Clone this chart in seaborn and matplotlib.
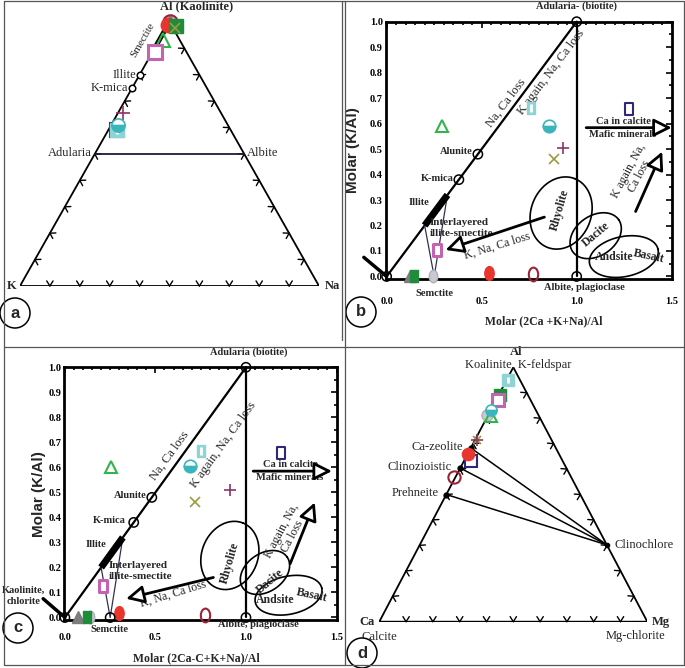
import numpy as np
import pandas as pd
import seaborn as sns
import matplotlib.pyplot as plt
import matplotlib.ticker as mticker
from matplotlib.path import Path
from matplotlib.lines import Line2D
from matplotlib.patches import Ellipse

W, H = 685, 668

# ---------------- data ----------------
# panel a: ternary Al-K-Na, points as (Al fraction, Na fraction)
a_node_names = ["Illite", "K-mica"]
a_node_al = [0.80, 0.75]
a_smectite_al = [0.865, 0.975]
a_feldspar_al = 0.5
a_samples = {
    "ci_grey": (1.0, 0.0), "tri_grey": (1.0, 0.0), "darkred": (1.0, 0.0),
    "red": (0.99, 0.0), "sq_green": (0.985, 0.03), "x": (0.977, 0.03),
    "tri_green": (0.932, 0.012), "sq_magenta": (0.886, 0.008),
    "plus": (0.655, 0.017), "sq_blue": (0.59, 0.03), "sq_cyan": (0.59, 0.029),
    "ci_cyan": (0.61, 0.023),
}

# panels b and c: molar (2Ca+K+Na)/Al vs molar K/Al
node_names = ["Alunite", "K-mica"]
node_xy = [0.48, 0.38]
illite_seg = [0.20, 0.32]
semctite_x = 0.25
b_samples = {
    "tri_green": (0.29, 0.59), "sq_cyan": (0.76, 0.66), "ci_cyan": (0.853, 0.59),
    "plus": (0.927, 0.505), "x": (0.88, 0.46), "sq_blue": (1.277, 0.656),
    "sq_magenta": (0.263, 0.105), "tri_grey": (0.125, 0.0), "sq_green": (0.142, 0.0),
    "ci_grey": (0.243, 0.0), "red": (0.54, 0.012), "darkred": (0.771, 0.008),
}
c_samples = {
    "tri_green": (0.255, 0.60), "ci_cyan": (0.693, 0.605), "sq_cyan": (0.754, 0.667),
    "plus": (0.911, 0.508), "x": (0.717, 0.462), "sq_blue": (1.194, 0.658),
    "sq_magenta": (0.212, 0.126), "ci_grey": (0.138, 0.0), "tri_grey": (0.074, 0.0),
    "sq_green": (0.12, 0.0), "red": (0.297, 0.016), "darkred": (0.776, 0.01),
}
# rock fields: centre x, centre y, semi-axes (px), angle
b_fields = {"Rhyolite": (0.918, 0.249, 37, 30, 68), "Dacite": (1.10, 0.16, 28, 20, 35),
            "Andsite": (1.248, 0.078, 35, 20, 12)}
c_fields = {"Rhyolite": (0.911, 0.248, 35, 28, 68), "Dacite": (1.105, 0.18, 27, 19, 35),
            "Andsite": (1.235, 0.089, 34, 19, 12)}

# panel d: ternary Al-Ca-Mg, points as (Al fraction, Mg fraction)
d_node_names = ["Ca-zeolite", "Clinozioistic", "Prehneite"]
d_node_al = [0.683, 0.604, 0.50]
clinochlore = (0.302, 0.698)
d_samples = {
    "sq_cyan": (0.949, 0.006), "tri_grey": (0.89, 0.0), "sq_green": (0.893, 0.004),
    "sq_magenta": (0.873, 0.008), "ci_grey": (0.814, -0.006), "tri_green": (0.81, 0.012),
    "ci_cyan": (0.833, 0.002), "x": (0.715, 0.006), "plus": (0.715, 0.006),
    "sq_blue": (0.633, 0.025), "red": (0.659, 0.0), "darkred": (0.567, -0.004),
}

# ---------------- style ----------------
sns.set_theme(style="white")
plt.rcParams["font.family"] = ["Liberation Serif", "DejaVu Sans"]
plt.rcParams["axes.linewidth"] = 2

circ = Path.unit_circle()
OVAL = Path(circ.vertices * [0.68, 1.0], circ.codes)
RECT = Path([(-0.68, -1), (0.68, -1), (0.68, 1), (-0.68, 1), (-0.68, -1)],
            [Path.MOVETO, Path.LINETO, Path.LINETO, Path.LINETO, Path.CLOSEPOLY])


def draw_sample(ax, key, x, y, ms, molar=False):
    kw = dict(clip_on=False, linestyle="none", zorder=5)
    if key == "red":
        ax.plot(x, y, marker=OVAL if molar else "o", ms=ms * 1.1, mfc="#e8352d", mec="#e8352d", **kw)
    elif key == "darkred":
        ax.plot(x, y, marker=OVAL if molar else "o", ms=ms * 1.1, mfc="none", mec="#9b2335", mew=1.5, **kw)
    elif key == "tri_green":
        ax.plot(x, y, marker="^", ms=ms, mfc="none", mec="#33b44a", mew=1.5, **kw)
    elif key == "sq_cyan":
        ax.plot(x, y, marker=RECT if molar else "s", ms=ms, mfc="#8fd4d4", mec="#8fd4d4", **kw)
        ax.plot(x, y, marker="|", ms=ms * 0.6, mec="white", mew=2, **kw)
    elif key == "ci_cyan":
        ax.plot(x, y, marker="o", ms=ms, fillstyle="bottom", mfc="#3ab5bd", mfcalt="white",
                mec="#3ab5bd", mew=1.2, **kw)
    elif key == "plus":
        ax.plot(x, y, marker="+", ms=ms, mec="#8e3466", mew=1.2, **kw)
    elif key == "x":
        ax.plot(x, y, marker="x", ms=ms * 0.8, mec="#9c9a3e", mew=1.2, **kw)
    elif key == "sq_blue":
        ax.plot(x, y, marker=RECT if molar else "s", ms=ms, mfc="none", mec="#2e2878", mew=1.5, **kw)
    elif key == "sq_magenta":
        ax.plot(x, y, marker=RECT if molar else "s", ms=ms, mfc="white", mec="#c463b2", mew=2.2, **kw)
    elif key == "tri_grey":
        ax.plot(x, y, marker="^", ms=ms, mfc="#7d7d7d", mec="#7d7d7d", **kw)
    elif key == "sq_green":
        ax.plot(x, y, marker=RECT if molar else "s", ms=ms, mfc="#1f8c3b", mec="#1f8c3b", **kw)
    elif key == "ci_grey":
        ax.plot(x, y, marker=OVAL if molar else "o", ms=ms, mfc="#c9c9d1", mec="#b0b0b8", **kw)


def fig_rect(l, t, r, b):
    return [l / W, 1 - b / H, (r - l) / W, (b - t) / H]


def tern(al, right):
    return right + 0.5 * al, al


def chevrons(ax, wp, hp, L=6.0, spread=32):
    edges = [
        (lambda t: (t, 0.0), np.array([0.0, 1.0])),
        (lambda t: (0.5 * t, t), np.array([hp, -0.5 * wp])),
        (lambda t: (1 - 0.5 * t, t), np.array([-hp, -0.5 * wp])),
    ]
    for f, n in edges:
        n = n / np.hypot(*n)
        for t in np.arange(1, 10) / 10:
            px, py = f(t)
            for s in (spread, -spread):
                a = np.deg2rad(s)
                v = np.array([n[0] * np.cos(a) - n[1] * np.sin(a), n[0] * np.sin(a) + n[1] * np.cos(a)]) * L
                ax.plot([px, px + v[0] / wp], [py, py + v[1] / hp], color="black", lw=1.0, clip_on=False)


def triangle(ax, wp, hp):
    tri = pd.DataFrame({"x": [0, 1, 0.5, 0], "y": [0, 0, 1, 0]})
    sns.lineplot(data=tri, x="x", y="y", sort=False, estimator=None, color="black", lw=1.3, ax=ax)
    chevrons(ax, wp, hp)
    ax.set_xlim(0, 1)
    ax.set_ylim(0, 1)
    ax.axis("off")


def ellipse(ax, cx, cy, a, b, ang, sx, sy):
    t = np.linspace(0, 2 * np.pi, 200)
    r = np.deg2rad(ang)
    ex, ey = a * np.cos(t), b * np.sin(t)
    X = ex * np.cos(r) - ey * np.sin(r)
    Y = ex * np.sin(r) + ey * np.cos(r)
    ax.plot(cx + X / sx, cy + Y / sy, color="black", lw=1.2, clip_on=False)


def arrow(ax, start, end):
    ax.annotate("", xy=end, xytext=start, annotation_clip=False,
                arrowprops=dict(arrowstyle="-|>,head_length=0.9,head_width=0.45",
                                fc="white", ec="black", lw=2, shrinkA=0, shrinkB=0))


fig = plt.figure(figsize=(W / 100, H / 100), dpi=100)

# ---------------- panel a ----------------
axa = fig.add_axes(fig_rect(20, 22, 319, 286))
triangle(axa, 299, 264)
x0, y0 = tern(a_feldspar_al, 0.0)
x1, y1 = tern(a_feldspar_al, 1 - a_feldspar_al)
axa.plot([x0, x1], [y0, y1], color="#1c1c3a", lw=1.3)
sx, sy = tern(np.array(a_smectite_al), 0.0)
axa.plot(sx, sy, color="black", lw=3.5, solid_capstyle="butt")
nx, ny = tern(np.array(a_node_al), 0.0)
sns.scatterplot(x=nx, y=ny, s=22, facecolor="white", edgecolor="black", linewidth=1.1, ax=axa, zorder=4)
for name, xx, yy in zip(a_node_names, nx, ny):
    axa.text(xx - 0.013, yy, name, ha="right", va="center", fontsize=9)
for key, (al, na) in a_samples.items():
    xx, yy = tern(al, na)
    draw_sample(axa, key, xx, yy, 9.5)
axa.text(0.591, 1.058, "Al (Kaolinite)", ha="center", va="center", fontsize=9, fontweight="bold")
axa.text(-0.028, 0.0, "K", ha="center", va="center", fontsize=9, fontweight="bold")
axa.text(1.045, 0.0, "Na", ha="center", va="center", fontsize=9, fontweight="bold")
axa.text(x0 - 0.01, 0.504, "Adularia", ha="right", va="center", fontsize=9)
axa.text(x1 + 0.01, 0.504, "Albite", ha="left", va="center", fontsize=9)
axa.text(0.41, 0.93, "Smectite", ha="center", va="center", fontsize=8, rotation=60)


# ---------------- panels b, c ----------------
def molar_panel(ax, samples, fields, lab, wpx, hpx, tick_pad, txt):
    ax.set_xlim(-0.005, 1.5)
    ax.set_ylim(-0.01, 1.0)
    sx = wpx / 1.505
    sy = hpx / 1.01
    ax.plot([0, 1], [0, 1], color="black", lw=1.6, clip_on=False)
    ax.plot([1, 1], [0, 1], color="black", lw=1.6, clip_on=False)
    ax.plot([-0.12, 0], [0.075, 0], color="black", lw=2.5, clip_on=False)
    ax.plot([illite_seg[0], semctite_x, illite_seg[1]], [illite_seg[0], 0, illite_seg[1]],
            color="#303050", lw=0.9)
    ax.plot(illite_seg, illite_seg, color="black", lw=5, solid_capstyle="butt")
    nodes = pd.DataFrame({"x": [0, 1, 1] + node_xy + ([semctite_x] if lab == "c" else []),
                          "y": [0, 1, 0] + node_xy + ([0] if lab == "c" else [])})
    sns.scatterplot(data=nodes, x="x", y="y", s=45, facecolor="none", edgecolor="black",
                    linewidth=1.1, ax=ax, zorder=6, clip_on=False)
    ax.set_xlabel("")
    ax.set_ylabel("")
    for key, (xx, yy) in samples.items():
        draw_sample(ax, key, xx, yy, 9, molar=True)
    for name, (cx, cy, a, b, ang) in fields.items():
        ellipse(ax, cx, cy, a, b, ang, sx, sy)

    ax.xaxis.set_major_locator(mticker.FixedLocator([0, 0.5, 1.0, 1.5]))
    ax.xaxis.set_minor_locator(mticker.MultipleLocator(0.05))
    ax.yaxis.set_major_locator(mticker.MultipleLocator(0.1))
    ax.yaxis.set_minor_locator(mticker.MultipleLocator(0.05))
    ax.xaxis.set_major_formatter(mticker.FormatStrFormatter("%.1f"))
    ax.yaxis.set_major_formatter(mticker.FormatStrFormatter("%.1f"))
    ax.tick_params(which="both", direction="in", top=True, right=True, width=1.2, colors="black")
    ax.tick_params(which="major", length=4)
    ax.tick_params(which="minor", length=2.5)
    ax.tick_params(axis="x", pad=tick_pad)
    ax.tick_params(axis="y", pad=2)
    for t in ax.get_xticklabels() + ax.get_yticklabels():
        t.set_fontweight("bold")
        t.set_fontsize(7.5)
    for s in ax.spines.values():
        s.set_color("black")
        s.set_linewidth(2)

    f = dict(fontsize=7.5, fontweight="bold")
    ax.text(txt["adul"][0], txt["adul"][1], txt["adul"][2], ha="center", va="center", **f)
    ax.text(txt["alun"][0], txt["alun"][1], "Alunite", ha="right", va="center", **f)
    ax.text(txt["kmica"][0], txt["kmica"][1], "K-mica", ha="right", va="center", **f)
    ax.text(txt["illite"][0], txt["illite"][1], "Illite", ha="center", va="center", **f)
    ax.text(txt["inter"][0], txt["inter"][1], "Interlayered\nillite-smectite", ha="left", va="center",
            linespacing=1.2, fontsize=8, fontweight="bold")
    ax.text(txt["semc"][0], txt["semc"][1], "Semctite", ha="center", va="center", **f)
    ax.text(txt["albite"][0], txt["albite"][1], "Albite, plagioclase", ha="center", va="center", **f)
    ax.text(txt["rhy"][0], txt["rhy"][1], "Rhyolite", ha="center", va="center", rotation=74, fontsize=8.5, fontweight="bold")
    ax.text(txt["dac"][0], txt["dac"][1], "Dacite", ha="center", va="center", rotation=40, fontsize=8.5, fontweight="bold")
    ax.text(txt["and"][0], txt["and"][1], "Andsite", ha="center", va="center", fontsize=8.5, fontweight="bold")
    ax.text(txt["bas"][0], txt["bas"][1], "Basalt", ha="center", va="center", rotation=-12, fontsize=8.5, fontweight="bold")
    ax.text(txt["cal"][0], txt["cal"][1], "Ca in calcite", ha="center", va="center", **f)
    ax.text(txt["maf"][0], txt["maf"][1], "Mafic minerals", ha="center", va="center", **f)
    ax.text(txt["kag2"][0], txt["kag2"][1], "K again, Na,\nCa loss", ha="center", va="center",
            rotation=62, fontsize=8.5, linespacing=1.0)
    ax.text(txt["naca"][0], txt["naca"][1], "Na, Ca loss", ha="center", va="center",
            rotation=txt["rot"], fontsize=9)
    ax.text(txt["kag"][0], txt["kag"][1], "K again, Na, Ca loss", ha="center", va="center",
            rotation=txt["rot"], fontsize=9)
    ax.text(txt["kna"][0], txt["kna"][1], "K, Na, Ca loss", ha="center", va="center",
            rotation=17, fontsize=8.5)
    for a0, a1 in txt["arrows"]:
        arrow(ax, a0, a1)
    ax.text(txt["ylab"], 0.5, "Molar (K/Al)", transform=ax.transAxes, rotation=90, ha="center",
            va="center", fontsize=11, fontweight="bold", family=["Liberation Sans", "DejaVu Sans"])
    ax.text(txt["xlab"][0], txt["xlab"][1], txt["xlab"][2], transform=ax.transAxes, ha="center",
            va="center", fontsize=8.5, fontweight="bold")


axb = fig.add_axes(fig_rect(385.7, 21.7, 671.7, 279))
molar_panel(axb, b_samples, b_fields, "b", 286, 257.3, 13, {
    "adul": (1.0, 1.06, "Adularia- (biotite)"), "alun": (0.455, 0.49), "kmica": (0.355, 0.383),
    "illite": (0.17, 0.29), "inter": (0.225, 0.19), "semc": (0.25, -0.068),
    "albite": (1.04, -0.045), "rhy": (0.91, 0.26), "dac": (1.10, 0.165), "and": (1.196, 0.078),
    "bas": (1.378, 0.08), "cal": (1.248, 0.61), "maf": (1.24, 0.556), "kag2": (1.30, 0.405),
    "naca": (0.63, 0.68), "kag": (0.866, 0.80), "kna": (0.58, 0.118), "rot": 53,
    "arrows": [((0.83, 0.233), (0.31, 0.104)), ((1.05, 0.584), (1.5, 0.584)),
               ((1.31, 0.255), (1.45, 0.49))],
    "ylab": -0.114, "xlab": (0.553, -0.166, "Molar (2Ca +K+Na)/Al"),
})

axc = fig.add_axes(fig_rect(64, 367.3, 336.5, 620))
molar_panel(axc, c_samples, c_fields, "c", 272.5, 252.7, 9, {
    "adul": (1.013, 1.062, "Adularia (biotite)"), "alun": (0.449, 0.488), "kmica": (0.334, 0.389),
    "illite": (0.172, 0.291), "inter": (0.24, 0.186), "semc": (0.246, -0.046),
    "albite": (1.07, -0.028), "rhy": (0.911, 0.22), "dac": (1.133, 0.145), "and": (1.16, 0.069),
    "bas": (1.364, 0.087), "cal": (1.244, 0.612), "maf": (1.24, 0.559), "kag2": (1.226, 0.334),
    "naca": (0.578, 0.645), "kag": (0.874, 0.69), "kna": (0.597, 0.095), "rot": 54,
    "arrows": [((0.82, 0.16), (0.338, 0.075)), ((1.04, 0.585), (1.475, 0.585)),
               ((1.244, 0.215), (1.38, 0.46))],
    "ylab": -0.092, "xlab": (0.484, -0.152, "Molar (2Ca-C+K+Na)/Al"),
})
axc.text(-0.23, 0.085, "Kaolinite,\nchlorite", ha="center", va="center", fontsize=7.5,
         fontweight="bold", linespacing=1.3)

# ---------------- panel d ----------------
axd = fig.add_axes(fig_rect(379.3, 367.3, 647.3, 621.7))
triangle(axd, 268, 254.4)
cx, cy = tern(*clinochlore)
for name, al in zip(d_node_names, d_node_al):
    xx, yy = tern(al, 0.0)
    axd.plot([xx, cx], [yy, cy], color="black", lw=1.1)
    axd.plot(xx, yy, marker="o", ms=3.5, color="black", linestyle="none")
    axd.text(xx - 0.03, yy + 0.005, name, ha="right", va="center", fontsize=9)
axd.plot(cx, cy, marker="o", ms=3, color="black", linestyle="none")
for key, (al, mg) in d_samples.items():
    xx, yy = tern(al, mg)
    draw_sample(axd, key, xx, yy, 8)
axd.text(0.509, 1.06, "Al", ha="center", va="center", fontsize=9, fontweight="bold")
axd.text(0.52, 1.01, "Koalinite, K-feldspar", ha="center", va="center", fontsize=9)
axd.text(cx + 0.03, cy, "Clinochlore", ha="left", va="center", fontsize=9)
axd.text(-0.045, 0.0, "Ca", ha="center", va="center", fontsize=9, fontweight="bold")
axd.text(-0.065, -0.06, "Calcite", ha="left", va="center", fontsize=9)
axd.text(1.05, 0.0, "Mg", ha="center", va="center", fontsize=9, fontweight="bold")
axd.text(0.955, -0.055, "Mg-chlorite", ha="center", va="center", fontsize=9)

# ---------------- frame and panel letters ----------------
def fline(xs, ys, **kw):
    fig.add_artist(Line2D([x / W for x in xs], [1 - y / H for y in ys], color="#555555", lw=0.9, **kw))


fline([4, 684, 684, 4, 4], [1, 1, 665, 665, 1])
fline([345, 345], [1, 665])
fline([341.5, 341.5], [1, 340])
fline([4, 684], [347, 347])
for letter, (px, py) in zip("abcd", [(15, 313), (361, 312), (18, 628), (362, 653)]):
    fig.add_artist(Ellipse((px / W, 1 - py / H), 30 / W, 30 / H, fc="white", ec="black", lw=1.1))
    fig.text(px / W, 1 - py / H, letter, ha="center", va="center", fontsize=12, fontweight="bold",
             family=["Liberation Sans", "DejaVu Sans"])

fig.savefig("out.png", dpi=100)
